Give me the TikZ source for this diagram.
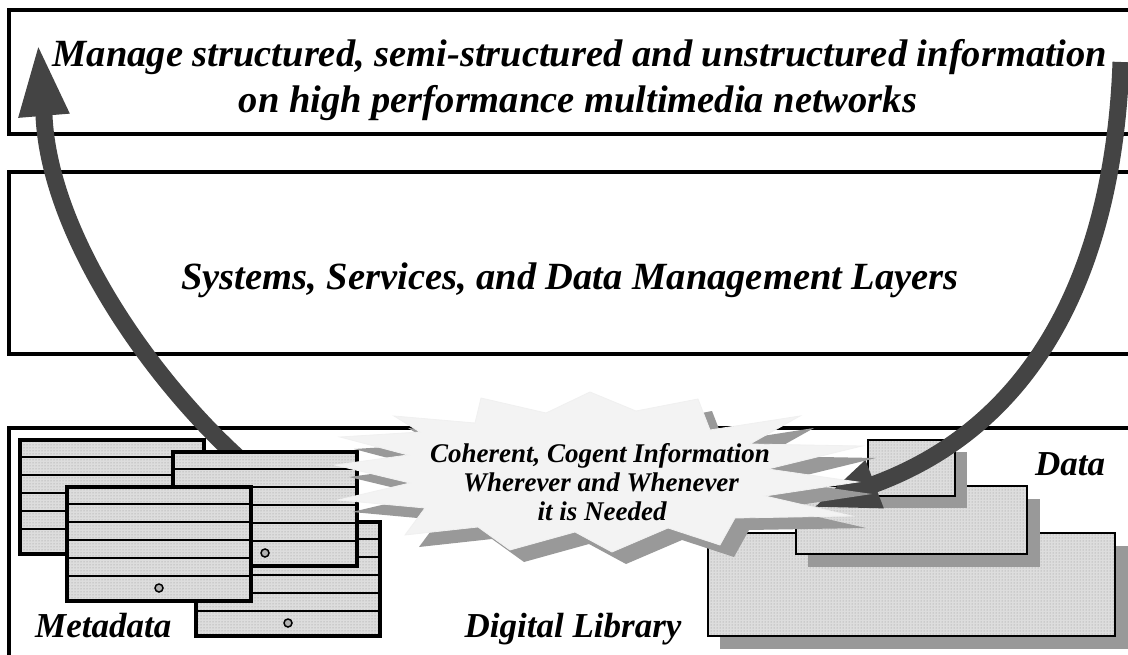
\documentclass[tikz,border=0pt]{standalone}
\usepackage{fontspec}
\setmainfont{Liberation Serif}
\usetikzlibrary{arrows.meta,patterns}

\definecolor{arrowgray}{RGB}{68,68,68}
\definecolor{shadowgray}{RGB}{153,153,153}
\definecolor{burstfill}{RGB}{243,243,243}

\tikzset{
  frame/.style={draw=black, line width=3.5pt},
  stipple/.style={preaction={fill=gray!27}, preaction={pattern=dots, pattern color=gray!85}},
  card/.style={stipple, draw=black, line width=4pt},
  rule/.style={draw=black, line width=1.8pt},
  hole/.style={draw=black, line width=1.5pt, fill=gray!60},
  datablock/.style={stipple, draw=black, line width=1.8pt},
  datashadow/.style={fill=shadowgray},
  bigarrow/.style={draw=arrowgray, line width=17pt},
  label/.style={font=\bfseries\itshape, anchor=base, inner sep=0pt},
}

% one metadata card: top-left corner #1,#2
\newcommand\metacard[2]{%
  \path[card] (#1,#2) rectangle ++(184,114);
  \foreach \k in {17,35,53,71,89}
    \draw[rule] ({#1-2},{#2+\k}) -- ++(188,0);
  \draw[hole] ({#1+92},{#2+101}) circle (4pt);
}

\begin{document}
\begin{tikzpicture}[x=1pt,y=-1pt]
\useasboundingbox (0,0) rectangle (1128,655);
\clip (0,0) rectangle (1128,655);
\fill[white] (0,0) rectangle (1128,655);

% layer frames
\draw[frame] (9,10) rectangle (1145,134);
\draw[frame] (9,172) rectangle (1145,354);
\draw[frame] (9,428) rectangle (1145,680);

% layer captions
\node[label, font=\fontsize{38.5}{46}\selectfont\bfseries\itshape] (goal1) at (580,67)
  {Manage structured, semi-structured and unstructured information};
\node[label, font=\fontsize{38.5}{46}\selectfont\bfseries\itshape] (goal2) at (578,113)
  {on high performance multimedia networks};
\node[label, font=\fontsize{38.5}{46}\selectfont\bfseries\itshape] (layers) at (570,290)
  {Systems, Services, and Data Management Layers};

% data blocks with drop shadows
\fill[datashadow] (720,546) rectangle (1128,649);
\path[datablock] (708,533) rectangle (1115,636);
\fill[datashadow] (808,499) rectangle (1040,567);
\path[datablock] (796,486) rectangle (1027,554);
\fill[datashadow] (880,452) rectangle (967,508);
\path[datablock] (868,440) rectangle (955,496);

% the big curved arrows
\coordinate (rstart) at (1121,62);
\coordinate (rneck) at (875,484);
\coordinate (rtip) at (812,508);
\draw[bigarrow, -{Triangle[length=67pt,width=46pt]}]
  (rstart) .. controls (1115,230) and (1060,415) .. (rneck) -- (rtip);

\coordinate (lstart) at (250,468);
\coordinate (lneck) at (44,116);
\coordinate (ltip) at (38,43);
\draw[bigarrow, -{Triangle[length=73pt,width=46pt]}]
  (lstart) .. controls (159,390) and (50,240) .. (lneck) -- (ltip);

% metadata cards
\metacard{20}{440}
\metacard{196}{522}
\metacard{173}{452}
\metacard{67}{487}

% starburst with its shadow
\def\burstpath{(590,392) -- (636,411) -- (698,399) -- (710,430) -- (800,416) -- (750,444)
  -- (862,446) -- (768,469) -- (858,482) -- (765,496) -- (852,516) -- (735,518)
  -- (720,545) -- (668,528) -- (612,552) -- (575,532) -- (510,550) -- (478,527)
  -- (405,535) -- (425,508) -- (338,500) -- (410,483) -- (335,465) -- (408,455)
  -- (340,437) -- (420,432) -- (394,416) -- (475,423) -- (481,398) -- (546,413) -- cycle}
\begin{scope}[shift={(14,12)}]
  \fill[shadowgray] \burstpath;
\end{scope}
\filldraw[fill=burstfill, draw=gray!12, line width=0.8pt] \burstpath;

\node[label, font=\fontsize{27}{30}\selectfont\bfseries\itshape] (b1) at (600,462) {Coherent, Cogent Information};
\node[label, font=\fontsize{27}{30}\selectfont\bfseries\itshape] (b2) at (601,491) {Wherever and Whenever};
\node[label, font=\fontsize{27}{30}\selectfont\bfseries\itshape] (b3) at (602,520) {it is Needed};

% region labels
\node[label, anchor=base west, font=\fontsize{35}{40}\selectfont\bfseries\itshape] (meta) at (35,637) {Metadata};
\node[label, font=\fontsize{35}{40}\selectfont\bfseries\itshape] (dl) at (573,637) {Digital Library};
\node[label, anchor=base west, font=\fontsize{35}{40}\selectfont\bfseries\itshape] (data) at (1035,475) {Data};
\end{tikzpicture}
\end{document}
